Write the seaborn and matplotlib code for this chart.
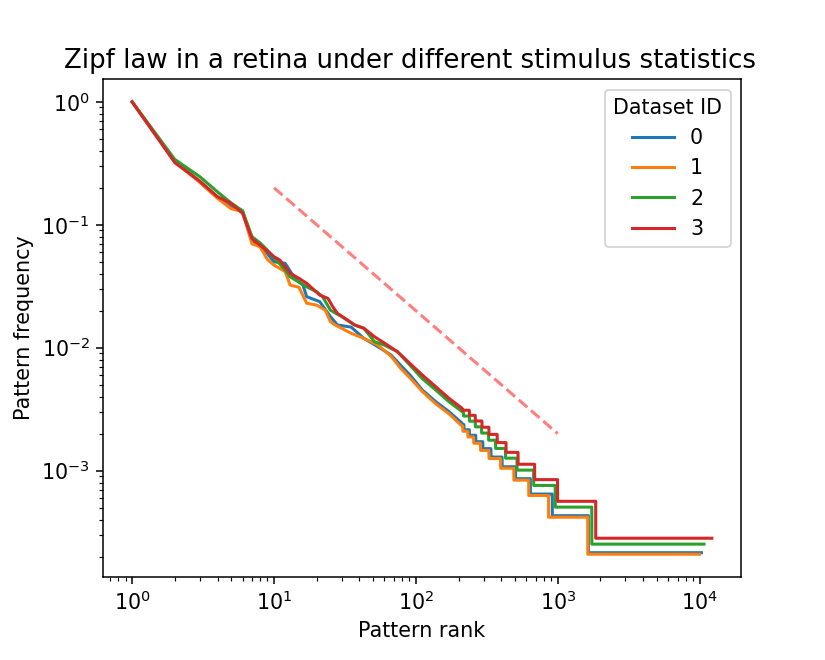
import numpy as np
import pandas as pd
import matplotlib
matplotlib.use("Agg")
import matplotlib.pyplot as plt
import seaborn as sns

# ---------------------------------------------------------------
# DATA  (rank -> normalised pattern frequency)
# ---------------------------------------------------------------
rank_0 = [1, 2, 3, 4, 5, 6, 7, 8, 9, 10,
          12, 14, 16, 17, 21, 25, 28, 35, 43, 54, 67, 78, 92, 111, 138, 171, 212,
          213, 218, 219, 238, 239, 264, 265, 296, 297, 338, 339, 405,
          406, 503, 504, 641, 642, 915, 916, 1645, 1646, 10300]
freq_0 = [1.0, 0.33, 0.225, 0.168, 0.140, 0.130, 0.073, 0.068, 0.058, 0.050,
          0.0485, 0.0367, 0.0323, 0.026, 0.0237, 0.0179, 0.0153, 0.0147, 0.0119, 0.0102,
          0.0087, 0.0072, 0.0059, 0.00453, 0.00364, 0.00302, 0.00243,
          0.00237, 0.00237, 0.00215, 0.00215, 0.00194, 0.00194, 0.00172, 0.00172,
          0.00151, 0.00151, 0.00129, 0.00129, 0.001075, 0.001075, 0.00086, 0.00086,
          0.000645, 0.000645, 0.00043, 0.00043, 0.000215, 0.000215]

rank_1 = [1, 2, 3, 4, 5, 6, 7, 8, 9, 10,
          12, 13, 15, 17, 20, 23, 25, 27, 35, 43, 54, 67, 78, 92, 111, 138, 171, 212,
          213, 214, 215, 232, 233, 255, 256, 285, 286, 327, 328, 395,
          396, 490, 491, 624, 625, 861, 862, 1628, 1629, 10000]
freq_1 = [1.0, 0.325, 0.221, 0.164, 0.135, 0.128, 0.070, 0.066, 0.052, 0.047,
          0.0415, 0.0323, 0.031, 0.023, 0.0222, 0.0202, 0.0163, 0.0153, 0.0131, 0.0119,
          0.0105, 0.0085, 0.0068, 0.0056, 0.0044, 0.0035, 0.0029, 0.0023,
          0.0023, 0.0023, 0.00209, 0.00209, 0.00188, 0.00188, 0.00167, 0.00167,
          0.00146, 0.00146, 0.001255, 0.001255, 0.001046, 0.001046, 0.000837, 0.000837,
          0.000628, 0.000628, 0.000418, 0.000418, 0.000209, 0.000209]

rank_2 = [1, 2, 3, 4, 5, 6, 7, 8, 9, 10,
          12, 13, 17, 20, 22, 25, 30, 37, 43, 51, 60, 74, 90, 111, 138, 171, 212,
          213, 216, 217, 238, 239, 262, 263, 290, 291, 325, 326, 364,
          365, 428, 429, 516, 517, 676, 677, 960, 961, 1738, 1739, 10740]
freq_2 = [1.0, 0.34, 0.246, 0.185, 0.150, 0.130, 0.080, 0.071, 0.062, 0.054,
          0.0428, 0.0377, 0.0313, 0.0285, 0.026, 0.0202, 0.0179, 0.0153, 0.0144, 0.0112,
          0.0105, 0.0093, 0.0073, 0.0056, 0.00453, 0.00364, 0.00302,
          0.00303, 0.00303, 0.00278, 0.00278, 0.002525, 0.002525, 0.00227, 0.00227,
          0.00202, 0.00202, 0.001768, 0.001768, 0.001515, 0.001515, 0.001263, 0.001263,
          0.00101, 0.00101, 0.000758, 0.000758, 0.000505, 0.000505, 0.0002525, 0.0002525]

rank_3 = [1, 2, 3, 4, 5, 6, 7, 8, 9, 10,
          11, 13, 15, 17, 21, 24, 26, 28, 33, 37, 43, 51, 60, 74, 88, 111, 138, 171, 212,
          213, 238, 239, 262, 263, 292, 293, 327, 328, 374, 375, 432,
          433, 525, 526, 687, 688, 997, 998, 1852, 1853, 12200]
freq_3 = [1.0, 0.32, 0.226, 0.169, 0.149, 0.124, 0.077, 0.068, 0.061, 0.055,
          0.0516, 0.0403, 0.0367, 0.0334, 0.0268, 0.0252, 0.0215, 0.019, 0.0168, 0.0153,
          0.0144, 0.0123, 0.0109, 0.0093, 0.0077, 0.0060, 0.00482, 0.00388, 0.00321,
          0.0031, 0.0031, 0.002817, 0.002817, 0.002535, 0.002535, 0.002254, 0.002254,
          0.001972, 0.001972, 0.00169, 0.00169, 0.001408, 0.001408, 0.001127, 0.001127,
          0.000845, 0.000845, 0.000563, 0.000563, 0.000282, 0.000282]

dataset_ids = ["0", "1", "2", "3"]

# 1/rank reference line
ref_rank = [10, 1000]
ref_freq = [0.2, 0.002]

# ---------------------------------------------------------------
# BUILD LONG TABLE
# ---------------------------------------------------------------
frames = []
for ds, r, f in zip(dataset_ids, [rank_0, rank_1, rank_2, rank_3],
                    [freq_0, freq_1, freq_2, freq_3]):
    frames.append(pd.DataFrame({"rank": r, "freq": f, "Dataset ID": ds}))
df = pd.concat(frames, ignore_index=True)

# ---------------------------------------------------------------
# PLOT
# ---------------------------------------------------------------
plt.rcParams["font.size"] = 10.8

fig = plt.figure(figsize=(6.0, 4.8), dpi=137.5)
ax = fig.add_axes([0.125, 0.126, 0.773, 0.754])

sns.lineplot(data=df, x="rank", y="freq", hue="Dataset ID",
             palette=sns.color_palette("tab10", 4),
             estimator=None, sort=False, linewidth=1.6, ax=ax)

ax.plot(ref_rank, ref_freq, "--", color="r", alpha=0.5, linewidth=1.6)

ax.set_xscale("log")
ax.set_yscale("log")
ax.set_xlabel("Pattern rank")
ax.set_ylabel("Pattern frequency")
ax.set_title("Zipf law in a retina under different stimulus statistics",
             fontsize=13.6, x=0.481)

sns.move_legend(ax, "upper right", title="Dataset ID")

fig.savefig("out.png", dpi=137.5)
